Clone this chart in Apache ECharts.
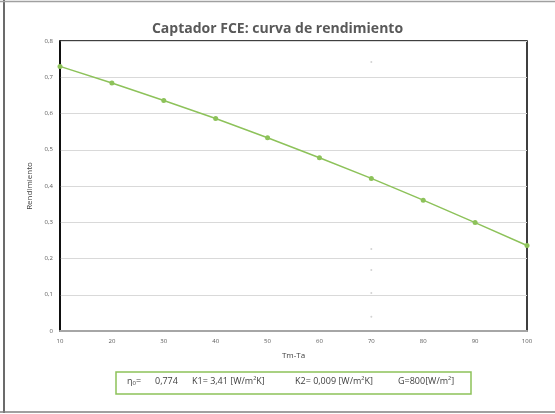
<!DOCTYPE html>
<html><head><meta charset="utf-8">
<script src="https://cdn.jsdelivr.net/npm/echarts@6/dist/echarts.min.js"></script>
<style>html,body{margin:0;padding:0;background:#fff}#c{width:555px;height:414px}</style>
</head><body><div id="c"></div>
<script>
var tmTa = [10, 20, 30, 40, 50, 60, 70, 80, 90, 100];
var rendimiento = [0.730, 0.684, 0.636, 0.586, 0.533, 0.478, 0.421, 0.361, 0.299, 0.236];
var strayX = [70, 70, 70, 70, 70];
var strayY = [0.742, 0.226, 0.168, 0.105, 0.039];
var title = 'Captador FCE: curva de rendimiento';
var xName = 'Tm-Ta';
var yName = 'Rendimiento';
var infoTexts = ['0,774', 'K1= 3,41 [W/m²K]', 'K2= 0,009 [W/m²K]', 'G=800[W/m²]'];

var font = '"Open Sans", "Noto Sans", sans-serif';
var chart = echarts.init(document.getElementById('c'), null, {renderer: 'canvas'});
chart.setOption({
  animation: false,
  backgroundColor: '#fff',
  title: {
    text: title, left: 'center', top: 17,
    textStyle: {fontFamily: font, fontSize: 14, fontWeight: 'bold', color: '#595959'}
  },
  grid: {left: 60, right: 28, top: 41, bottom: 83, show: true, borderColor: '#000', borderWidth: 1.5, backgroundColor: '#fff'},
  xAxis: {
    type: 'value', min: 10, max: 100, interval: 10,
    name: xName, nameLocation: 'middle', nameGap: 21,
    nameTextStyle: {fontFamily: font, fontSize: 8, color: '#404040'},
    axisLine: {show: true, lineStyle: {color: '#a6a6a6', width: 2}},
    axisTick: {show: false},
    axisLabel: {fontFamily: font, fontSize: 6, color: '#595959', margin: 7},
    splitLine: {show: false}
  },
  yAxis: {
    type: 'value', min: 0, max: 0.8, interval: 0.1,
    name: yName, nameLocation: 'middle', nameGap: 25, nameRotate: 90,
    nameTextStyle: {fontFamily: font, fontSize: 8, color: '#404040'},
    axisLine: {show: true, lineStyle: {color: '#000', width: 1.5}},
    axisTick: {show: false},
    axisLabel: {fontFamily: font, fontSize: 6, color: '#595959', margin: 7,
      formatter: function (v) { return String(Math.round(v * 10) / 10).replace('.', ','); }},
    splitLine: {show: true, lineStyle: {color: '#d9d9d9', width: 1.2}}
  },
  series: [
    {
      type: 'line',
      data: tmTa.map(function (x, i) { return [x, rendimiento[i]]; }),
      symbol: 'circle', symbolSize: 5,
      lineStyle: {color: '#8dc25a', width: 1.5},
      itemStyle: {color: '#8dc25a'},
      z: 5
    },
    {
      type: 'scatter',
      data: strayX.map(function (x, i) { return [x, strayY[i]]; }),
      symbol: 'circle', symbolSize: 2,
      itemStyle: {color: '#c8c8c8'},
      z: 4
    }
  ],
  graphic: [
    {type: 'line', shape: {x1: 4, y1: 0, x2: 4, y2: 413}, style: {stroke: '#3a3a3a', lineWidth: 1.5}},
    {type: 'line', shape: {x1: 0, y1: 1.5, x2: 555, y2: 1.5}, style: {stroke: '#a0a0a0', lineWidth: 1.5}},
    {type: 'line', shape: {x1: 0, y1: 412, x2: 555, y2: 412}, style: {stroke: '#808080', lineWidth: 1.5}},
    {type: 'rect', shape: {x: 116, y: 372, width: 355, height: 22}, style: {fill: '#fff', stroke: '#8dc25a', lineWidth: 1.5}},
    {type: 'text', left: 127, top: 377, style: {
      rich: {
        a: {fontFamily: font, fontSize: 9, fill: '#404040'},
        s: {fontFamily: font, fontSize: 6, fill: '#404040', verticalAlign: 'bottom', padding: [4, 0, 0, 0]}
      },
      text: '{a|η}{s|0}{a|=}'
    }},
    {type: 'text', left: 155, top: 377, style: {text: infoTexts[0], fontFamily: font, fontSize: 9, fill: '#404040'}},
    {type: 'text', left: 192, top: 377, style: {text: infoTexts[1], fontFamily: font, fontSize: 9, fill: '#404040'}},
    {type: 'text', left: 295, top: 377, style: {text: infoTexts[2], fontFamily: font, fontSize: 9, fill: '#404040'}},
    {type: 'text', left: 398, top: 377, style: {text: infoTexts[3], fontFamily: font, fontSize: 9, fill: '#404040'}}
  ]
});
</script></body></html>
